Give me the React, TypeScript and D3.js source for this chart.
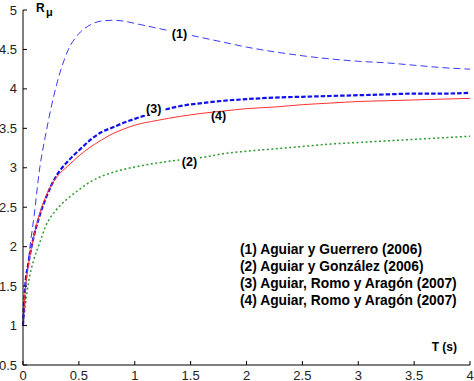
import React from "react";
import * as d3 from "d3";

const periods = [0, 0.02, 0.05, 0.1, 0.15, 0.2, 0.3, 0.4, 0.5, 0.6, 0.7, 0.8, 0.9, 1.0, 1.2, 1.4, 1.6, 1.8, 2.0, 2.25, 2.5, 2.75, 3.0, 3.25, 3.5, 3.75, 4.0];
const curve1 = [1.0, 1.4, 1.85, 2.4, 3.0, 3.4, 4.05, 4.48, 4.7, 4.81, 4.86, 4.87, 4.86, 4.83, 4.77, 4.71, 4.65, 4.59, 4.53, 4.47, 4.42, 4.38, 4.35, 4.33, 4.3, 4.27, 4.25];
const curve2 = [1.0, 1.25, 1.55, 1.85, 2.05, 2.25, 2.47, 2.61, 2.72, 2.82, 2.89, 2.94, 2.98, 3.01, 3.06, 3.1, 3.13, 3.18, 3.21, 3.24, 3.27, 3.3, 3.32, 3.34, 3.36, 3.38, 3.4];
const curve3 = [1.0, 1.5, 1.8, 2.15, 2.4, 2.6, 2.9, 3.08, 3.22, 3.35, 3.45, 3.51, 3.57, 3.62, 3.71, 3.78, 3.82, 3.85, 3.87, 3.89, 3.9, 3.91, 3.92, 3.93, 3.94, 3.94, 3.95];
const curve4 = [1.0, 1.45, 1.78, 2.15, 2.42, 2.62, 2.88, 3.02, 3.15, 3.26, 3.35, 3.43, 3.49, 3.54, 3.6, 3.65, 3.69, 3.72, 3.75, 3.77, 3.8, 3.82, 3.84, 3.85, 3.86, 3.87, 3.88];

const xTicks = [0, 0.5, 1, 1.5, 2, 2.5, 3, 3.5, 4];
const yTicks = [0.5, 1, 1.5, 2, 2.5, 3, 3.5, 4, 4.5, 5];
const legendLines = [
  "(1) Aguiar y Guerrero (2006)",
  "(2) Aguiar y González (2006)",
  "(3) Aguiar, Romo y Aragón (2007)",
  "(4) Aguiar, Romo y Aragón (2007)",
];
const curveLabels = ["(1)", "(2)", "(3)", "(4)"];
const labelAt = [1.4, 1.49, 1.17, 1.75];

export default function App() {
  const W = 474, H = 381;
  const x = d3.scaleLinear().domain([0, 4]).range([23, 470]);
  const y = d3.scaleLinear().domain([0.5, 5]).range([365, 10]);
  const line = (vals: number[]) =>
    d3.line<number>().x((_, i) => x(periods[i])).y((d) => y(d)).curve(d3.curveMonotoneX)(vals) || "";

  const series = [
    { vals: curve1, stroke: "#3a3aff", width: 1, dash: "7,4" },
    { vals: curve2, stroke: "#2e9a2e", width: 1.5, dash: "2,2.5" },
    { vals: curve3, stroke: "#1010ee", width: 2.2, dash: "4.5,2" },
    { vals: curve4, stroke: "#ff3030", width: 1, dash: "" },
  ];
  const interp = (vals: number[], t: number) => {
    const i = d3.bisectRight(periods, t) - 1;
    const f = (t - periods[i]) / (periods[i + 1] - periods[i]);
    return vals[i] + f * (vals[i + 1] - vals[i]);
  };
  const font = "Arial, 'Liberation Sans', sans-serif";
  const labelOffsets = [1, 3, -4, 4];
  const labelMask = [true, true, true, false];

  return (
    <svg width={W} height={H} style={{ position: "absolute", left: 0, top: 0, background: "#fff" }} fontFamily={font}>
      {series.map((s, i) => (
        <path key={i} d={line(s.vals)} fill="none" stroke={s.stroke} strokeWidth={s.width} strokeDasharray={s.dash || undefined} />
      ))}
      {curveLabels.map((l, i) => {
        const t = labelAt[i];
        const cx = x(t);
        const cy = y(interp(series[i].vals, t)) + labelOffsets[i];
        return (
          <g key={l}>
            {labelMask[i] && <rect x={cx - 10} y={cy - 7} width={20} height={13} fill="#fff" />}
            <text x={cx} y={cy + 4.5} textAnchor="middle" fontSize={12.5} fontWeight="bold" fill="#000">{l}</text>
          </g>
        );
      })}
      <line x1={23} x2={23} y1={10} y2={365} stroke="#000" strokeWidth={1} />
      <line x1={23} x2={470} y1={365} y2={365} stroke="#000" strokeWidth={1} />
      {yTicks.map((t) => (
        <g key={"y" + t}>
          <line x1={23} x2={27} y1={y(t)} y2={y(t)} stroke="#000" />
          <text x={17} y={y(t) + 4.5} textAnchor="end" fontSize={13} fill="#222">{t}</text>
        </g>
      ))}
      {xTicks.map((t) => (
        <g key={"x" + t}>
          <line x1={x(t)} x2={x(t)} y1={365} y2={361} stroke="#000" />
          <text x={x(t)} y={380} textAnchor="middle" fontSize={13} fill="#222">{t}</text>
        </g>
      ))}
      <text x={36} y={12} fontSize={12} fontWeight="bold">R</text>
      <text x={46} y={16} fontSize={11} fontWeight="bold">μ</text>
      <text x={457} y={351} textAnchor="end" fontSize={12} fontWeight="bold">T (s)</text>
      {legendLines.map((l, i) => (
        <text key={l} x={240} y={254 + i * 17} fontSize={13.8} fontWeight="bold">{l}</text>
      ))}
    </svg>
  );
}
